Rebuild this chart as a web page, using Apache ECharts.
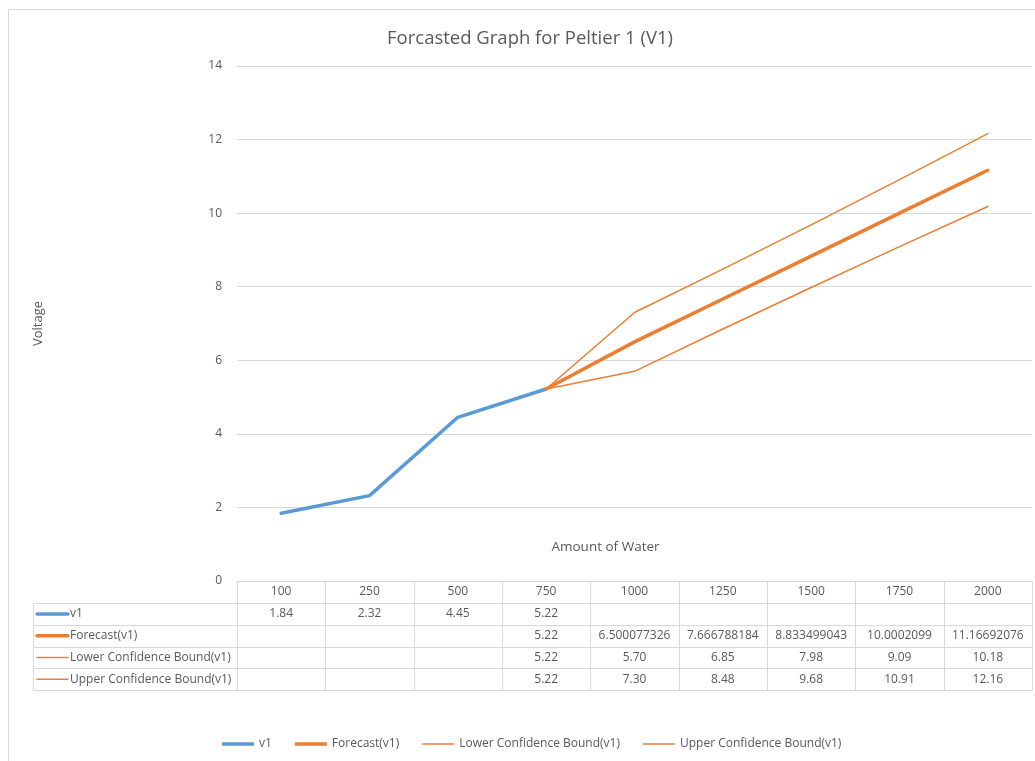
<!DOCTYPE html>
<html>
<head>
<meta charset="utf-8">
<title>Forcasted Graph for Peltier 1 (V1)</title>
<script src="https://cdn.jsdelivr.net/npm/echarts@6/dist/echarts.min.js"></script>
<style>
  html, body { margin: 0; padding: 0; background: #ffffff; }
  #chart { width: 1035px; height: 761px; }
</style>
</head>
<body>
<div id="chart"></div>
<script>
// Water amounts along the category axis
const categories = ['100', '250', '500', '750', '1000', '1250', '1500', '1750', '2000'];
// Measured voltage
const v1 = [1.84, 2.32, 4.45, 5.22, null, null, null, null, null];
// Forecast and its confidence band
const forecast = [null, null, null, 5.22, 6.500077326, 7.666788184, 8.833499043, 10.0002099, 11.16692076];
const lowerBound = [null, null, null, 5.22, 5.70, 6.85, 7.98, 9.09, 10.18];
const upperBound = [null, null, null, 5.22, 7.30, 8.48, 9.68, 10.91, 12.16];
// Y axis ticks
const yTicks = { min: 0, max: 14, interval: 2 };

const FONT = '"Open Sans", "Noto Sans", sans-serif';
const TEXT = '#595959';
const RULE = '#d9d9d9';
const BLUE = '#5b9bd5';
const ORANGE = '#ed7d31';

const GRID = { left: 237, right: 3, top: 66, bottom: 180 };

const tableRows = [
  { name: 'v1', values: v1, color: BLUE, width: 3.5, fmt: v => v.toFixed(2) },
  { name: 'Forecast(v1)', values: forecast, color: ORANGE, width: 3.5, fmt: v => String(v) },
  { name: 'Lower Confidence Bound(v1)', values: lowerBound, color: ORANGE, width: 1.5, fmt: v => v.toFixed(2) },
  { name: 'Upper Confidence Bound(v1)', values: upperBound, color: ORANGE, width: 1.5, fmt: v => v.toFixed(2) }
];

const chart = echarts.init(document.getElementById('chart'), null, { renderer: 'canvas' });

function lineSeries(row) {
  return {
    name: row.name,
    type: 'line',
    data: row.values,
    symbol: 'none',
    connectNulls: false,
    lineStyle: { color: row.color, width: row.width, cap: 'round', join: 'round' },
    itemStyle: { color: row.color },
    emphasis: { disabled: true },
    z: row.width > 2 ? 3 : 2
  };
}

// Legend keys are plain strokes, thick or thin like their series
function legendIcon(row) {
  return 'path://M0,0H32V' + row.width + 'H0Z';
}

chart.setOption({
  animation: false,
  backgroundColor: '#ffffff',
  textStyle: { fontFamily: FONT },
  title: {
    text: 'Forcasted Graph for Peltier 1 (V1)',
    left: 525, top: 24, textAlign: 'center',
    textStyle: { fontFamily: FONT, fontSize: 18.5, fontWeight: 'normal', color: TEXT }
  },
  grid: GRID,
  legend: {
    bottom: 6, left: 217,
    itemWidth: 32, itemHeight: 4, itemGap: 23,
    symbolKeepAspect: true,
    textStyle: { fontFamily: FONT, fontSize: 12, color: TEXT },
    data: tableRows.map(r => ({ name: r.name, icon: legendIcon(r), itemStyle: { color: r.color } }))
  },
  xAxis: {
    type: 'category',
    data: categories,
    boundaryGap: true,
    name: 'Amount of Water',
    nameLocation: 'middle',
    nameGap: -41,
    nameTextStyle: { fontFamily: FONT, fontSize: 13.5, color: TEXT, padding: [0, 58, 0, 0] },
    axisLine: { show: true, lineStyle: { color: RULE, width: 1 } },
    axisTick: { show: false },
    axisLabel: { color: TEXT, fontSize: 12, margin: 5, fontFamily: FONT }
  },
  yAxis: {
    type: 'value',
    min: yTicks.min, max: yTicks.max, interval: yTicks.interval,
    name: 'Voltage',
    nameLocation: 'middle',
    nameGap: 192,
    nameRotate: 90,
    nameTextStyle: { fontFamily: FONT, fontSize: 13, color: TEXT },
    axisLine: { show: false },
    axisTick: { show: false },
    axisLabel: { color: TEXT, fontSize: 12, margin: 15, fontFamily: FONT },
    splitLine: { lineStyle: { color: RULE, width: 1 } }
  },
  series: tableRows.map(lineSeries)
});

// Data table beneath the plot, aligned to the category bands
function buildTable() {
  const x0 = chart.convertToPixel({ xAxisIndex: 0 }, 0);
  const x1 = chart.convertToPixel({ xAxisIndex: 0 }, 1);
  const band = x1 - x0;
  const left = x0 - band / 2;
  const right = left + band * categories.length;
  const axisY = chart.convertToPixel({ yAxisIndex: 0 }, yTicks.min);
  const headH = 22;
  const rowH = 21.8;
  const keyLeft = 33;
  const els = [];
  const line = (xa, ya, xb, yb) => els.push({
    type: 'line', silent: true,
    shape: { x1: Math.round(xa) + 0.5, y1: Math.round(ya) + 0.5, x2: Math.round(xb) + 0.5, y2: Math.round(yb) + 0.5 },
    style: { stroke: RULE, lineWidth: 1 }
  });
  const bottom = axisY + headH + rowH * tableRows.length;

  // chart frame edges
  line(8, 9, 1035, 9);
  line(8, 9, 8, 761);

  // vertical rules
  for (let i = 0; i <= categories.length; i++) {
    const x = left + band * i;
    line(x, axisY, x, bottom);
  }
  line(keyLeft, axisY + headH, keyLeft, bottom);
  // horizontal rules
  for (let r = 0; r <= tableRows.length; r++) {
    const y = axisY + headH + rowH * r;
    line(keyLeft, y, right, y);
  }

  tableRows.forEach((row, r) => {
    const cy = axisY + headH + rowH * r + rowH / 2;
    els.push({
      type: 'line', silent: true,
      shape: { x1: 37, y1: cy, x2: 68, y2: cy },
      style: { stroke: row.color, lineWidth: row.width, lineCap: 'round' }
    });
    els.push({
      type: 'text', silent: true, x: 70, y: cy,
      style: { text: row.name, fill: TEXT, font: '12px ' + FONT, verticalAlign: 'middle', align: 'left' }
    });
    row.values.forEach((v, i) => {
      if (v === null) return;
      els.push({
        type: 'text', silent: true,
        x: chart.convertToPixel({ xAxisIndex: 0 }, i), y: cy,
        style: { text: row.fmt(v), fill: TEXT, font: '12px ' + FONT, verticalAlign: 'middle', align: 'center' }
      });
    });
  });
  chart.setOption({ graphic: els });
}
buildTable();
</script>
</body>
</html>
